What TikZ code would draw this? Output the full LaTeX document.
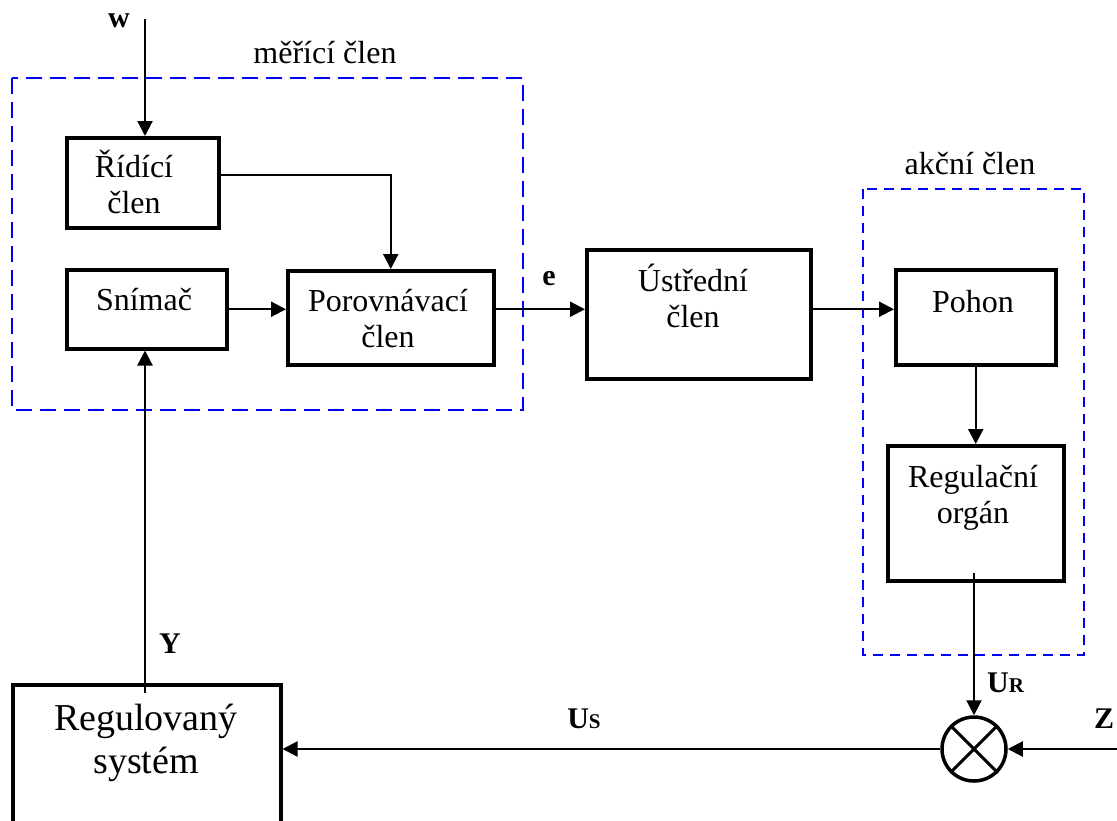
\documentclass[tikz,border=0pt]{standalone}
\usepackage{fontspec}
\setmainfont{Liberation Serif}
\usetikzlibrary{arrows.meta,shapes.geometric,calc}
\tikzset{
  blk/.style={draw, line width=3.5pt, inner sep=0pt, anchor=north west},
  conn/.style={line width=2.2pt, -{Triangle[length=15pt,width=15pt]}},
  grp/.style={draw=blue, line width=2.5pt},
  txt/.style={font=\fontsize{32}{36}\selectfont, align=center, inner sep=0pt, anchor=base},
  bigtxt/.style={font=\fontsize{38}{43}\selectfont, align=center, inner sep=0pt, anchor=base},
  lbl/.style={font=\bfseries\fontsize{30}{30}\selectfont, inner sep=0pt, anchor=base},
}
\newcommand{\smallsc}[1]{{\fontsize{21}{21}\selectfont #1}}
\begin{document}
\begin{tikzpicture}[x=1pt,y=-1pt]
\clip (0,0) rectangle (1117,820);
\fill[white] (0,0) rectangle (1117,820);

% group frames
\draw[grp, dash pattern=on 16pt off 8pt] (12,78) rectangle (523,410);
\draw[grp, dash pattern=on 10pt off 7pt] (863,189) rectangle (1084,655);
\node[txt] (merlbl) at (325,63) {měřící člen};
\node[txt] (akclbl) at (970,174) {akční člen};

% blocks
\node[blk, minimum width=152pt, minimum height=90pt] (ridici) at (65,136) {};
\node[blk, minimum width=160pt, minimum height=79pt] (snimac) at (65,268) {};
\node[blk, minimum width=206pt, minimum height=94pt] (porov) at (286,269) {};
\node[blk, minimum width=224pt, minimum height=129pt] (ustr) at (585,248) {};
\node[blk, minimum width=160pt, minimum height=95pt] (pohon) at (894,268) {};
\node[blk, minimum width=176pt, minimum height=135pt] (regorg) at (886,444) {};
\node[blk, minimum width=268pt, minimum height=190pt] (regsys) at (11,683) {};
\node[draw, circle, line width=3.5pt, minimum size=64pt, inner sep=0pt] (sum) at (974,749) {};
\draw[line width=3pt] (sum.north west) -- (sum.south east) (sum.north east) -- (sum.south west);

% block texts (anchor = baseline of last line)
\node[txt] (ridiciT) at (134,213) {Řídící\\člen};
\node[txt] (snimacT) at (144,310) {Snímač};
\node[txt] (porovT) at (388,347) {Porovnávací\\člen};
\node[txt] (ustrT) at (693,327) {Ústřední\\člen};
\node[txt] (pohonT) at (973,312) {Pohon};
\node[txt] (regorgT) at (973,523) {Regulační\\orgán};
\node[bigtxt] (regsysT) at (146,773) {Regulovaný\\systém};

% signal labels
\node[lbl] (wl) at (119,27) {w};
\node[lbl] (el) at (549,285) {e};
\node[lbl] (yl) at (170,653) {Y};
\node[lbl, anchor=base west] (url) at (987,692) {U\smallsc{R}};
\node[lbl] (usl) at (584,728) {U\smallsc{S}};
\node[lbl] (zl) at (1104,728) {Z};

% connectors
\coordinate (wtop) at (145,19);
\draw[conn] (wtop) -- (wtop |- ridici.north);
\draw[conn] ([yshift=8pt]ridici.east) -| (porov.north);
\draw[conn] (snimac.east) -- (snimac.east -| porov.west);
\draw[conn] (porov.east |- snimac.east) -- (ustr.west |- snimac.east);
\draw[conn] (ustr.east |- snimac.east) -- (pohon.west |- snimac.east);
\draw[conn] (pohon.south) -- (regorg.north);
\coordinate (urstart) at (974,573);
\draw[conn] (urstart) -- (sum.north);
\coordinate (zin) at (1117,749);
\draw[conn] (zin) -- (sum.east);
\draw[conn] (sum.west) -- (regsys.east |- sum.west);
\coordinate (yst) at (145,693);
\draw[conn] (yst) -- (yst |- snimac.south);
\end{tikzpicture}
\end{document}
